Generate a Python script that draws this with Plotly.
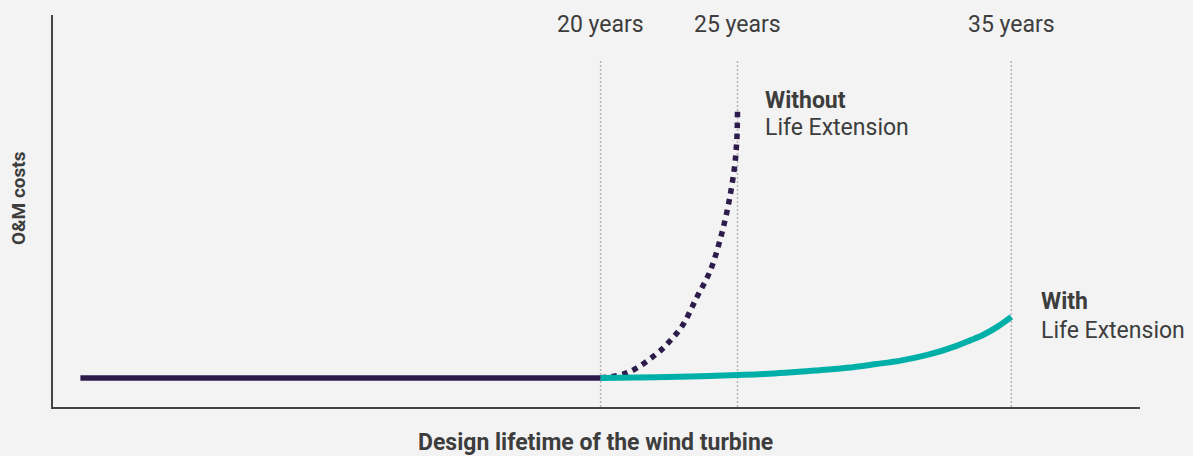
import plotly.graph_objects as go

# Data (years vs. relative O&M cost index)
base_years = [1, 20]
base_cost = [7.4, 7.4]

without_years = [20, 21, 22, 22.5, 23, 23.5, 24, 24.4, 24.7, 24.9, 24.95, 24.98, 25.0]
without_cost = [7.4, 8.8, 13.3, 16.6, 20.9, 27.8, 34.7, 43.6, 52.8, 61.7, 65.6, 68.9, 75.3]

with_years = [20, 22, 24, 26, 28, 29, 30, 31, 32, 33, 33.5, 34, 34.5, 35]
with_cost = [7.4, 7.6, 7.9, 8.4, 9.4, 10.0, 10.9, 11.9, 13.4, 15.6, 17.0, 18.5, 20.5, 23.0]

marker_years = [20, 25, 35]
marker_labels = ["20 years", "25 years", "35 years"]

PURPLE = "#2d1b4b"
TEAL = "#00b0a8"
TEXT = "#3d3d3d"
GRID = "#b3b3b3"
BG = "#f3f3f3"
FONT = "Roboto"

fig = go.Figure()

# vertical dotted reference lines
for yr in marker_years:
    fig.add_trace(go.Scatter(x=[yr, yr], y=[0, 88.5], mode="lines",
                             line=dict(color=GRID, width=1.5, dash="2px,2px"),
                             hoverinfo="skip", showlegend=False))

fig.add_trace(go.Scatter(x=without_years, y=without_cost, mode="lines",
                         line=dict(color=PURPLE, width=5.5, dash="dot", shape="spline"),
                         showlegend=False))
fig.add_trace(go.Scatter(x=base_years, y=base_cost, mode="lines",
                         line=dict(color=PURPLE, width=5.5), showlegend=False))
fig.add_trace(go.Scatter(x=with_years, y=with_cost, mode="lines",
                         line=dict(color=TEAL, width=6, shape="spline", smoothing=1.0),
                         showlegend=False))

LBL = 23
annotations = []
for yr, lab in zip(marker_years, marker_labels):
    annotations.append(dict(x=yr, y=97.7, xref="x", yref="y", text=lab, showarrow=False,
                            xanchor="center", yanchor="middle",
                            font=dict(family=FONT, size=LBL, color=TEXT)))

annotations += [
    dict(x=25.93, y=78.3, xref="x", yref="y", text="<b>Without</b>", showarrow=False,
         xanchor="left", yanchor="middle", font=dict(family=FONT, size=LBL, color=TEXT)),
    dict(x=25.93, y=71.2, xref="x", yref="y", text="Life Extension", showarrow=False,
         xanchor="left", yanchor="middle", font=dict(family=FONT, size=LBL, color=TEXT)),
    dict(x=36.0, y=27.0, xref="x", yref="y", text="<b>With</b>", showarrow=False,
         xanchor="left", yanchor="middle", font=dict(family=FONT, size=LBL, color=TEXT)),
    dict(x=36.0, y=19.6, xref="x", yref="y", text="Life Extension", showarrow=False,
         xanchor="left", yanchor="middle", font=dict(family=FONT, size=LBL, color=TEXT)),
    dict(x=0.4995, y=-0.0918, xref="paper", yref="paper",
         text="<b>Design lifetime of the wind turbine</b>", showarrow=False,
         xanchor="center", yanchor="middle", font=dict(family=FONT, size=23, color=TEXT)),
    dict(x=-0.0322, y=0.533, xref="paper", yref="paper", text="<b>O&M costs</b>",
         showarrow=False, textangle=-90, xanchor="center", yanchor="middle",
         font=dict(family=FONT, size=19, color=TEXT)),
]

fig.update_layout(
    width=1193, height=456,
    margin=dict(l=53, r=53, t=15, b=49),
    paper_bgcolor=BG, plot_bgcolor=BG,
    annotations=annotations,
    xaxis=dict(range=[0, 39.7], showgrid=False, zeroline=False, showticklabels=False,
               ticks="", showline=True, linecolor="#444444", linewidth=2, fixedrange=True),
    yaxis=dict(range=[0, 100], showgrid=False, zeroline=False, showticklabels=False,
               ticks="", showline=True, linecolor="#444444", linewidth=2, fixedrange=True),
)

fig.write_html("out.html", config={"displayModeBar": False},
               post_script="document.body.style.margin='0';document.body.style.background='%s';" % BG)
